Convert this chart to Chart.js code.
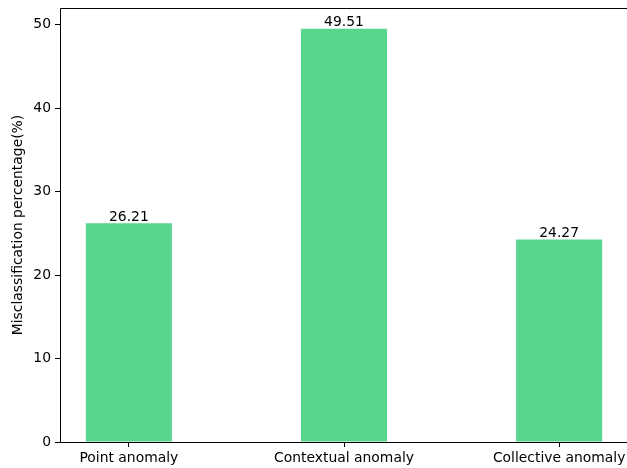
<!DOCTYPE html>
<html>
<head>
<meta charset="utf-8">
<script src="https://cdn.jsdelivr.net/npm/chart.js@4/dist/chart.umd.min.js"></script>
<style>
html,body{margin:0;padding:0;background:#fff;overflow:hidden;width:627px;height:468px;}
#wrap{width:632px;height:468px;}
</style>
</head>
<body>
<div id="wrap"><canvas id="c" width="632" height="468"></canvas></div>
<script>
const categories = ["Point anomaly", "Contextual anomaly", "Collective anomaly"];
const values = [26.21, 49.51, 24.27];
const yTicks = [0, 10, 20, 30, 40, 50];
const barColor = "#58d68d";
const FONT = "'DejaVu Sans', sans-serif";

const boxPlugin = {
  id: 'box',
  afterDraw(chart) {
    const ctx = chart.ctx, a = chart.chartArea;
    const l = Math.round(a.left) + 0.5, t = Math.round(a.top) + 0.5, b = Math.round(a.bottom) + 0.5;
    ctx.save();
    ctx.strokeStyle = '#000';
    ctx.lineWidth = 1;
    ctx.beginPath();
    ctx.moveTo(a.right + 10, t);
    ctx.lineTo(l, t);
    ctx.lineTo(l, b);
    ctx.lineTo(a.right + 10, b);
    ctx.stroke();
    const meta = chart.getDatasetMeta(0);
    ctx.fillStyle = '#000';
    ctx.font = "13.9px " + FONT;
    ctx.textAlign = 'center';
    ctx.textBaseline = 'bottom';
    meta.data.forEach((bar, i) => {
      ctx.fillText(values[i].toFixed(2), bar.x, bar.y + 1);
    });
    ctx.restore();
  }
};

new Chart(document.getElementById('c'), {
  type: 'bar',
  data: {
    datasets: [{
      data: categories.map((c, i) => ({x: i, y: values[i]})),
      backgroundColor: barColor,
      borderWidth: 0,
      barPercentage: 0.4,
      categoryPercentage: 1.0
    }]
  },
  options: {
    responsive: false,
    animation: false,
    events: [],
    layout: {padding: {top: 8, right: 4, left: 0, bottom: 0}},
    plugins: {legend: {display: false}, tooltip: {enabled: false}},
    scales: {
      x: {
        type: 'linear',
        offset: false,
        min: -0.32,
        max: 2.32,
        afterBuildTicks(scale) { scale.ticks = categories.map((c, i) => ({value: i})); },
        afterFit(scale) { scale.height = 26; scale.paddingLeft = 0; scale.paddingRight = 0; },
        ticks: {
          callback: (v) => categories[v] !== undefined ? categories[v] : '',
          color: '#000',
          font: {family: FONT, size: 13.9},
          maxRotation: 0,
          autoSkip: false,
          padding: 3
        },
        grid: {offset: false, drawOnChartArea: false, drawTicks: true, tickLength: 5, tickColor: '#000', tickWidth: 1},
        border: {display: false}
      },
      y: {
        min: 0,
        max: 51.99,
        afterBuildTicks(scale) { scale.ticks = yTicks.map(v => ({value: v})); },
        afterFit(scale) { scale.width = 60; scale.paddingTop = 0; scale.paddingBottom = 0; },
        ticks: {
          color: '#000',
          font: {family: FONT, size: 13.9},
          padding: 4
        },
        grid: {drawOnChartArea: false, drawTicks: true, tickLength: 5, tickColor: '#000', tickWidth: 1},
        border: {display: false},
        title: {
          display: true,
          text: 'Misclassification percentage(%)',
          color: '#000',
          font: {family: FONT, size: 13.9},
          padding: {top: 10, bottom: 0}
        }
      }
    }
  },
  plugins: [boxPlugin]
});
</script>
</body>
</html>
